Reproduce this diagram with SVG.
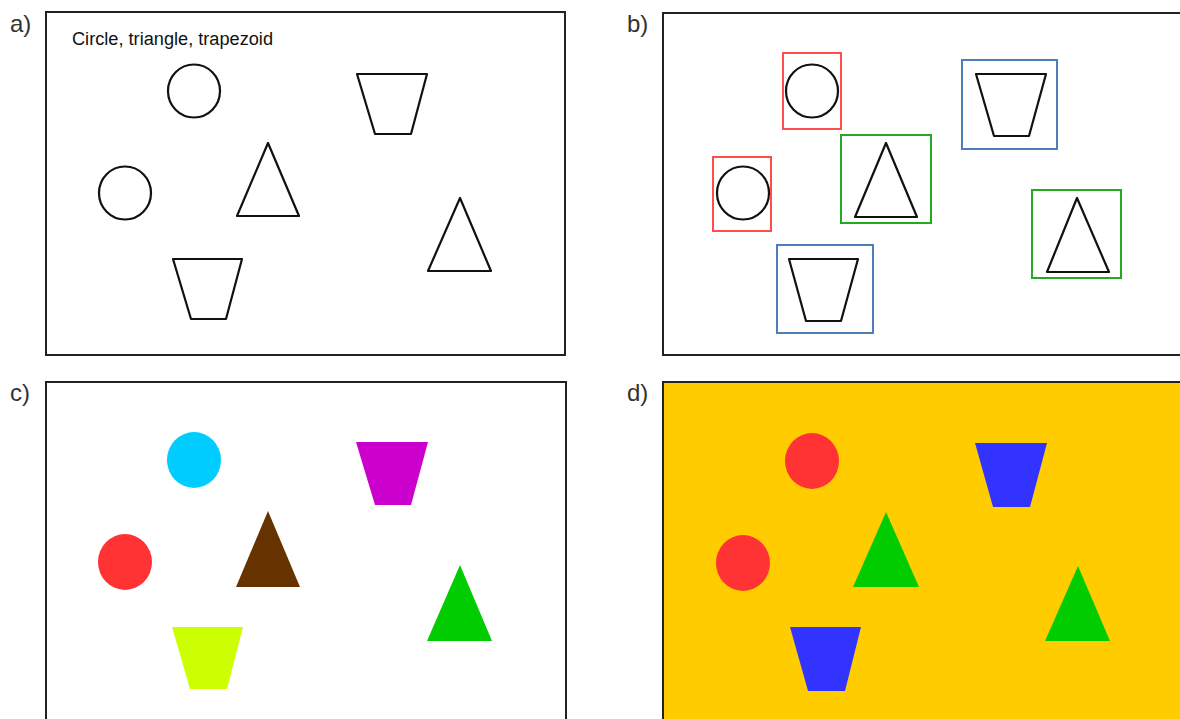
<svg xmlns="http://www.w3.org/2000/svg" width="1180" height="719" viewBox="0 0 1180 719">
<style>
.frame{fill:#fff;stroke:#222;stroke-width:2}
.lbl{font-family:"Liberation Sans",Arial,sans-serif;font-size:24px;fill:#333}
.cap{font-family:"Liberation Sans",Arial,sans-serif;font-size:18px;fill:#111}
.out{fill:none;stroke:#111;stroke-width:2.2;stroke-linejoin:round}
.box{fill:none;stroke-width:2}
.rb{stroke:#FF4D4D}
.gb{stroke:#22AA22}
.bb{stroke:#4F7DBA}
</style>
<rect width="1180" height="719" fill="#fff"/>

<g id="panel-a">
<text class="lbl" x="10" y="32">a)</text>
<rect class="frame" x="46" y="12" width="519" height="343"/>
<text class="cap" x="72" y="45" textLength="201" lengthAdjust="spacingAndGlyphs">Circle, triangle, trapezoid</text>
<g id="a-circle1"><ellipse class="out" cx="194" cy="91" rx="26" ry="26.5"/></g>
<g id="a-circle2"><ellipse class="out" cx="125" cy="193" rx="26" ry="26.5"/></g>
<g id="a-triangle1"><polygon class="out" points="268,143 299,216 237,216"/></g>
<g id="a-triangle2"><polygon class="out" points="460,198 491,271 428,271"/></g>
<g id="a-trapezoid1"><polygon class="out" points="357,74 427,74 411,134 375,134"/></g>
<g id="a-trapezoid2"><polygon class="out" points="173,259 242,259 226,319 191,319"/></g>
</g>

<g id="panel-b">
<text class="lbl" x="627" y="32">b)</text>
<rect class="frame" x="663" y="13" width="530" height="342"/>
<g id="b-circle1"><rect class="box rb" x="783" y="53" width="58" height="76"/><ellipse class="out" cx="812" cy="91" rx="26" ry="26.5"/></g>
<g id="b-circle2"><rect class="box rb" x="713" y="157" width="58" height="74"/><ellipse class="out" cx="743" cy="193" rx="26" ry="26.5"/></g>
<g id="b-triangle1"><rect class="box gb" x="841" y="135" width="90" height="88"/><polygon class="out" points="886,143 917,217 855,217"/></g>
<g id="b-triangle2"><rect class="box gb" x="1032" y="190" width="89" height="88"/><polygon class="out" points="1077,198 1109,272 1047,272"/></g>
<g id="b-trapezoid1"><rect class="box bb" x="962" y="60" width="95" height="89"/><polygon class="out" points="976,74 1046,74 1029,136 994,136"/></g>
<g id="b-trapezoid2"><rect class="box bb" x="777" y="245" width="96" height="88"/><polygon class="out" points="789,259 858,259 841,321 806,321"/></g>
</g>

<g id="panel-c">
<text class="lbl" x="10" y="401">c)</text>
<rect class="frame" x="46" y="382" width="520" height="350"/>
<g id="c-circle1"><ellipse cx="194" cy="460" rx="27" ry="28" fill="#00CCFF"/></g>
<g id="c-circle2"><ellipse cx="125" cy="562" rx="27" ry="28" fill="#FF3333"/></g>
<g id="c-triangle1"><polygon points="268,511 300,587 236,587" fill="#663300"/></g>
<g id="c-triangle2"><polygon points="460,565 492,641 427,641" fill="#00CC00"/></g>
<g id="c-trapezoid1"><polygon points="356,442 428,442 411,505 375,505" fill="#CC00CC"/></g>
<g id="c-trapezoid2"><polygon points="172,627 243,627 227,689 190,689" fill="#CCFF00"/></g>
</g>

<g id="panel-d">
<text class="lbl" x="627" y="401">d)</text>
<rect class="frame" x="663" y="382" width="530" height="350" style="fill:#FFCC00"/>
<g id="d-circle1"><ellipse cx="812" cy="461" rx="27" ry="28" fill="#FF3333"/></g>
<g id="d-circle2"><ellipse cx="743" cy="563" rx="27" ry="28" fill="#FF3333"/></g>
<g id="d-triangle1"><polygon points="886,512 919,587 853,587" fill="#00CC00"/></g>
<g id="d-triangle2"><polygon points="1078,566 1110,641 1045,641" fill="#00CC00"/></g>
<g id="d-trapezoid1"><polygon points="975,443 1047,443 1030,507 993,507" fill="#3333FF"/></g>
<g id="d-trapezoid2"><polygon points="790,627 861,627 845,691 808,691" fill="#3333FF"/></g>
</g>
</svg>
